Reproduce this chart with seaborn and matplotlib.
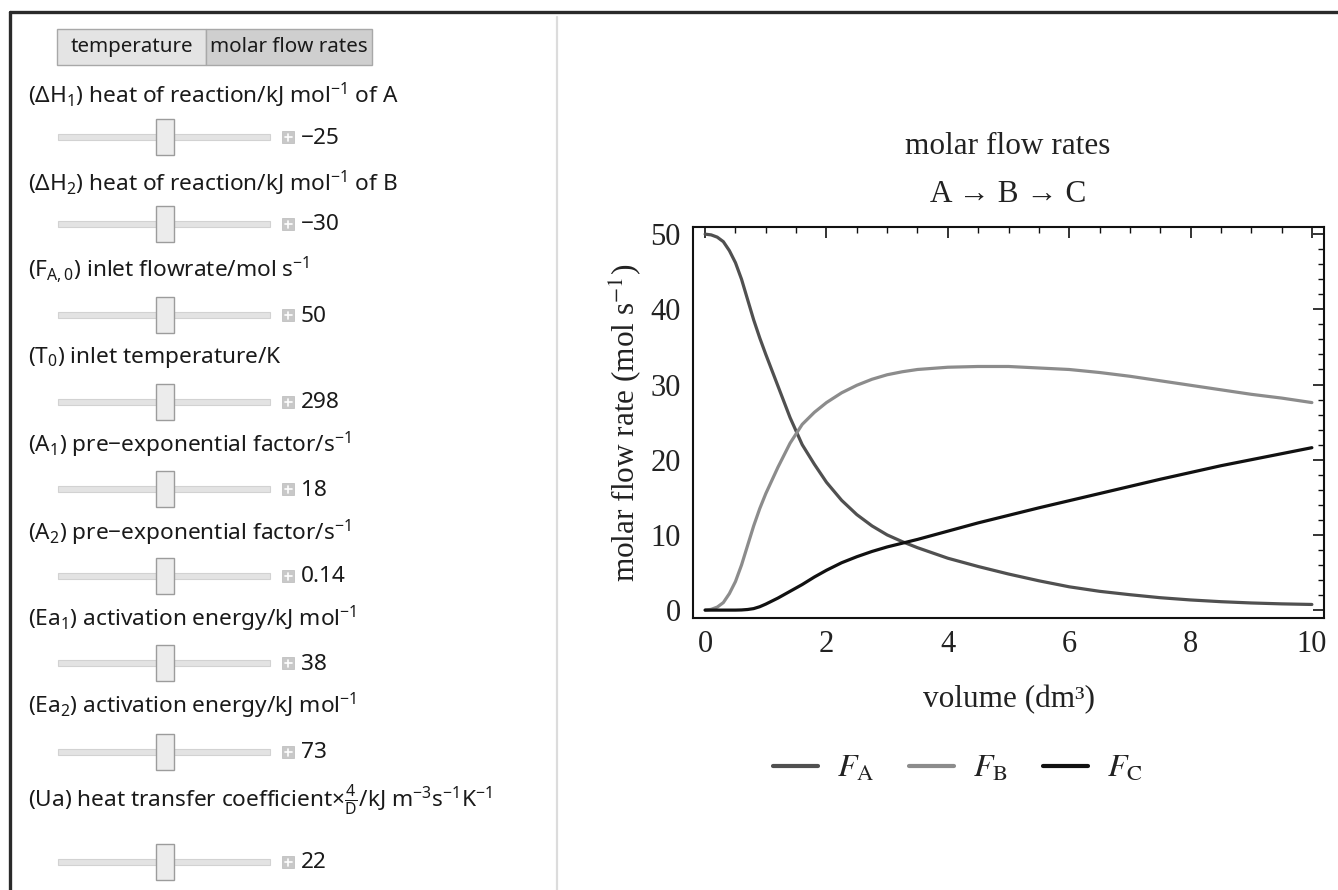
import numpy as np
import pandas as pd
import matplotlib
matplotlib.use("Agg")
import matplotlib.pyplot as plt
import seaborn as sns
from matplotlib.patches import Rectangle
from matplotlib.lines import Line2D
from matplotlib.ticker import MultipleLocator
from matplotlib.font_manager import FontProperties

# ---------------- data ----------------
volume = [0.0, 0.1, 0.2, 0.3, 0.4, 0.5, 0.6, 0.7, 0.8, 0.9, 1.0, 1.2, 1.4, 1.6, 1.8,
          2.0, 2.25, 2.5, 2.75, 3.0, 3.25, 3.5, 4.0, 4.5, 5.0, 5.5, 6.0, 6.5, 7.0,
          7.5, 8.0, 8.5, 9.0, 9.5, 10.0]
F_A = [50.0, 49.9, 49.6, 49.0, 47.8, 46.2, 44.0, 41.3, 38.6, 36.2, 34.0, 29.8, 25.6,
       22.0, 19.4, 17.0, 14.6, 12.7, 11.2, 10.0, 9.1, 8.3, 6.9, 5.8, 4.8, 3.9, 3.1,
       2.5, 2.05, 1.65, 1.35, 1.12, 0.95, 0.83, 0.75]
F_B = [0.0, 0.1, 0.4, 1.0, 2.2, 3.8, 6.0, 8.6, 11.2, 13.5, 15.5, 19.0, 22.2, 24.7,
       26.3, 27.6, 28.9, 29.9, 30.7, 31.3, 31.7, 32.0, 32.3, 32.4, 32.4, 32.2, 32.0,
       31.6, 31.1, 30.5, 29.9, 29.3, 28.7, 28.2, 27.6]
F_C = [0.0, 0.0, 0.0, 0.0, 0.0, 0.0, 0.02, 0.08, 0.2, 0.45, 0.8, 1.6, 2.5, 3.4, 4.4,
       5.3, 6.3, 7.1, 7.8, 8.4, 8.9, 9.4, 10.5, 11.6, 12.6, 13.6, 14.55, 15.5, 16.45,
       17.4, 18.3, 19.2, 20.0, 20.8, 21.6]
series_labels = [r"$F_{\mathrm{A}}$", r"$F_{\mathrm{B}}$", r"$F_{\mathrm{C}}$"]
series_colors = ["#505050", "#8c8c8c", "#111111"]
x_ticks = [0, 2, 4, 6, 8, 10]
y_ticks = [0, 10, 20, 30, 40, 50]

tab_labels = ["temperature", "molar flow rates"]
control_labels = [
    "(ΔH$_1$) heat of reaction/kJ mol$^{-1}$ of A",
    "(ΔH$_2$) heat of reaction/kJ mol$^{-1}$ of B",
    "(F$_{\\mathrm{A,0}}$) inlet flowrate/mol s$^{-1}$",
    "(T$_0$) inlet temperature/K",
    "(A$_1$) pre\u2212exponential factor/s$^{-1}$",
    "(A$_2$) pre\u2212exponential factor/s$^{-1}$",
    "(Ea$_1$) activation energy/kJ mol$^{-1}$",
    "(Ea$_2$) activation energy/kJ mol$^{-1}$",
    "(Ua) heat transfer coefficient\u00d7$\\frac{4}{\\mathrm{D}}$/kJ m$^{-3}$s$^{-1}$K$^{-1}$",
]
control_values = ["\u221225", "\u221230", "50", "298", "18", "0.14", "38", "73", "22"]

# ---------------- style ----------------
sns.set_theme(style="white")
plt.rcParams["font.family"] = ["Liberation Serif", "DejaVu Serif"]
plt.rcParams["mathtext.fontset"] = "custom"
plt.rcParams["mathtext.rm"] = "Noto Sans"
plt.rcParams["mathtext.it"] = "Noto Sans:italic"
plt.rcParams["mathtext.bf"] = "Noto Sans:bold"

W, H = 1338, 890
fig = plt.figure(figsize=(W / 100, H / 100), dpi=100)
fig.patch.set_facecolor("white")

# overlay in pixel coordinates for the control panel
ov = fig.add_axes([0, 0, 1, 1], zorder=0)
ov.set_xlim(0, W)
ov.set_ylim(H, 0)
ov.axis("off")

# outer frame and separator
ov.add_line(Line2D([9.5, W], [11.5, 11.5], color="#2a2a2a", lw=2.4))
ov.add_line(Line2D([9.5, 9.5], [11.5, H], color="#2a2a2a", lw=2.4))
ov.add_line(Line2D([557, 557], [17, H], color="#dcdcdc", lw=1.6))

sans = ["Noto Sans", "DejaVu Sans"]
lab_size = 16.3
tab_size = 14.8

# tabs
ov.add_patch(Rectangle((57, 29), 149, 36, facecolor="#e4e4e4", edgecolor="#a8a8a8", lw=1.0))
ov.add_patch(Rectangle((206, 29), 166, 36, facecolor="#cfcfcf", edgecolor="#a8a8a8", lw=1.0))
ov.text(131.5, 47, tab_labels[0], ha="center", va="center", fontsize=tab_size,
        family=sans, color="#1a1a1a")
ov.text(289, 47, tab_labels[1], ha="center", va="center", fontsize=tab_size,
        family=sans, color="#1a1a1a")

label_y = [95, 183, 270, 358, 445, 533, 619, 706, 800]
slider_y = [137, 224, 315, 402, 489, 576, 663, 752, 862]
for lab, ly in zip(control_labels, label_y):
    t = ov.text(28, ly, lab, ha="left", va="center", fontsize=lab_size,
                family=sans, color="#1a1a1a")
    t.set_math_fontfamily("custom")
for val, sy in zip(control_values, slider_y):
    ov.add_patch(Rectangle((58, sy - 3), 212, 6, facecolor="#e3e3e3",
                           edgecolor="#d2d2d2", lw=0.8))
    ov.add_patch(Rectangle((156, sy - 18), 18, 36, facecolor="#ececec",
                           edgecolor="#9c9c9c", lw=1.0))
    ov.add_patch(Rectangle((282, sy - 6), 12, 12, facecolor="#c8c8c8",
                           edgecolor="#c0c0c0", lw=0.6))
    ov.add_line(Line2D([284.5, 291.5], [sy, sy], color="white", lw=1.2))
    ov.add_line(Line2D([288, 288], [sy - 3.5, sy + 3.5], color="white", lw=1.2))
    ov.text(301, sy + 1, val, ha="left", va="center", fontsize=lab_size,
            family=sans, color="#1a1a1a")

# ---------------- the plot ----------------
ax = fig.add_axes([693 / W, 1 - 618 / H, (1324 - 693) / W, (618 - 227) / H], zorder=1)
df = pd.DataFrame({
    "volume": volume * 3,
    "rate": F_A + F_B + F_C,
    "series": [series_labels[0]] * len(volume) + [series_labels[1]] * len(volume)
              + [series_labels[2]] * len(volume),
})
sns.lineplot(data=df, x="volume", y="rate", hue="series",
             palette=dict(zip(series_labels, series_colors)),
             hue_order=series_labels, linewidth=2.3, ax=ax, legend=False,
             estimator=None, sort=True)

ax.set_xlim(-0.2, 10.2)
ax.set_ylim(-1.05, 50.95)
ax.set_xticks(x_ticks)
ax.set_yticks(y_ticks)
ax.set_xticklabels([str(v) for v in x_ticks])
ax.set_yticklabels([str(v) for v in y_ticks])
ax.xaxis.set_minor_locator(MultipleLocator(0.5))
ax.yaxis.set_minor_locator(MultipleLocator(2))
ax.tick_params(which="both", direction="in", top=True, right=True, color="#111111")
ax.tick_params(which="major", length=8, width=1.2, labelsize=22, pad=9,
               labelcolor="#222222")
ax.tick_params(which="minor", length=4.5, width=1.0)
for sp in ax.spines.values():
    sp.set_visible(True)
    sp.set_color("#111111")
    sp.set_linewidth(1.5)
ax.set_facecolor("white")

serif = ["Liberation Serif", "DejaVu Serif"]
ax.set_xlabel("volume (dm\u00b3)", fontsize=22.5, family=serif, color="#222222")
ax.xaxis.label.set_va("center")
ax.xaxis.set_label_coords(0.5, (618 - 700) / (618 - 227))
ax.set_ylabel("molar flow rate (mol s$^{-1}$)", fontsize=22.5, family=serif,
              color="#222222", math_fontfamily="stix")
ax.yaxis.label.set_va("center")
ax.yaxis.set_label_coords((626 - 693) / (1324 - 693), 0.5)

ov.text(1008, 147, "molar flow rates", ha="center", va="center", fontsize=22.5,
        family=serif, color="#222222")
ov.text(1008, 195, "A \u2192 B \u2192 C", ha="center", va="center", fontsize=22.5,
        family=serif, color="#222222")

handles = [Line2D([], [], color=c, lw=3.0) for c in series_colors]
leg_prop = FontProperties(family=serif, size=23, math_fontfamily="stix")
fig.legend(handles, series_labels, loc="center", bbox_to_anchor=(958 / W, 1 - 769 / H),
           ncol=3, frameon=False, handlelength=1.4, handletextpad=0.6,
           columnspacing=1.1, prop=leg_prop, labelcolor="#222222")

fig.savefig("out.png", dpi=100)
